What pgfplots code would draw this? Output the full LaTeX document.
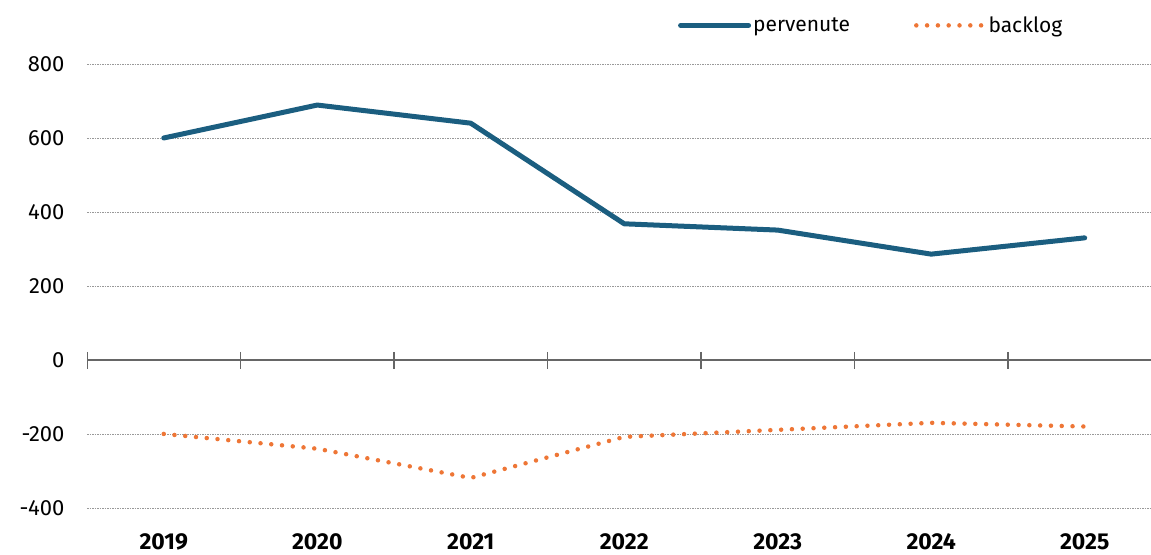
\documentclass[border=0pt]{standalone}
\usepackage{pgfplots}
\pgfplotsset{compat=1.18}
\usepackage{fontspec}
\setmainfont{Fira Sans}
\definecolor{perv}{RGB}{27,94,128}
\definecolor{back}{RGB}{238,118,54}

\begin{document}
\begin{tikzpicture}
\begin{axis}[
    name=ax,
    scale only axis,
    width=1064pt, height=492pt,
    xmin=-0.5, xmax=6.432,
    ymin=-450, ymax=880,
    axis line style={draw=none},
    xtick={0,1,2,3,4,5,6},
    xticklabels={2019,2020,2021,2022,2023,2024,2025},
    xticklabel style={font=\fontsize{23}{27}\selectfont\bfseries, yshift=-3.5pt},
    ytick={-400,-200,200,400,600,800},
    extra y ticks={0},
    extra y tick style={grid style={solid, draw=black!60, line width=1.3pt}},
    major tick length=0pt,
    ymajorgrids,
    grid style={dash pattern=on 1.5pt off 1pt, draw=black!40, line width=0.8pt},
    yticklabel style={font=\fontsize{22}{26}\selectfont, xshift=-19pt},
    /pgf/number format/assume math mode=true,
    legend style={draw=none, fill=none, legend columns=2,
        at={(0.737,1)}, anchor=center, yshift=9pt,
        font=\fontsize{21}{25}\selectfont,
        /tikz/every even column/.append style={column sep=62pt}},
    legend image code/.code={\draw[#1] (0pt,0pt) -- (68pt,0pt);},
]
\pgfplotsinvokeforeach{-0.5,0.5,1.5,2.5,3.5,4.5,5.5}{
    \draw[black!60, line width=1.3pt] ([yshift=8pt]axis cs:#1,0) -- ([yshift=-9pt]axis cs:#1,0);
}

\addplot[perv, line width=5pt, line join=round, line cap=round]
    coordinates {(0,600) (1,689) (2,640) (3,368) (4,351) (5,286) (6,330)};

\addplot[back, line width=4.5pt, line cap=round, dash pattern=on 0pt off 10.8pt]
    coordinates {(0,-200) (1,-240) (2,-319) (3,-208) (4,-189) (5,-170) (6,-180)};

\legend{pervenute, backlog}
\end{axis}
\pgfresetboundingbox
\path ([shift={(-87pt,-28.5pt)}]ax.south west) rectangle ([shift={(0pt,34.4pt)}]ax.north east);
\end{tikzpicture}
\end{document}
